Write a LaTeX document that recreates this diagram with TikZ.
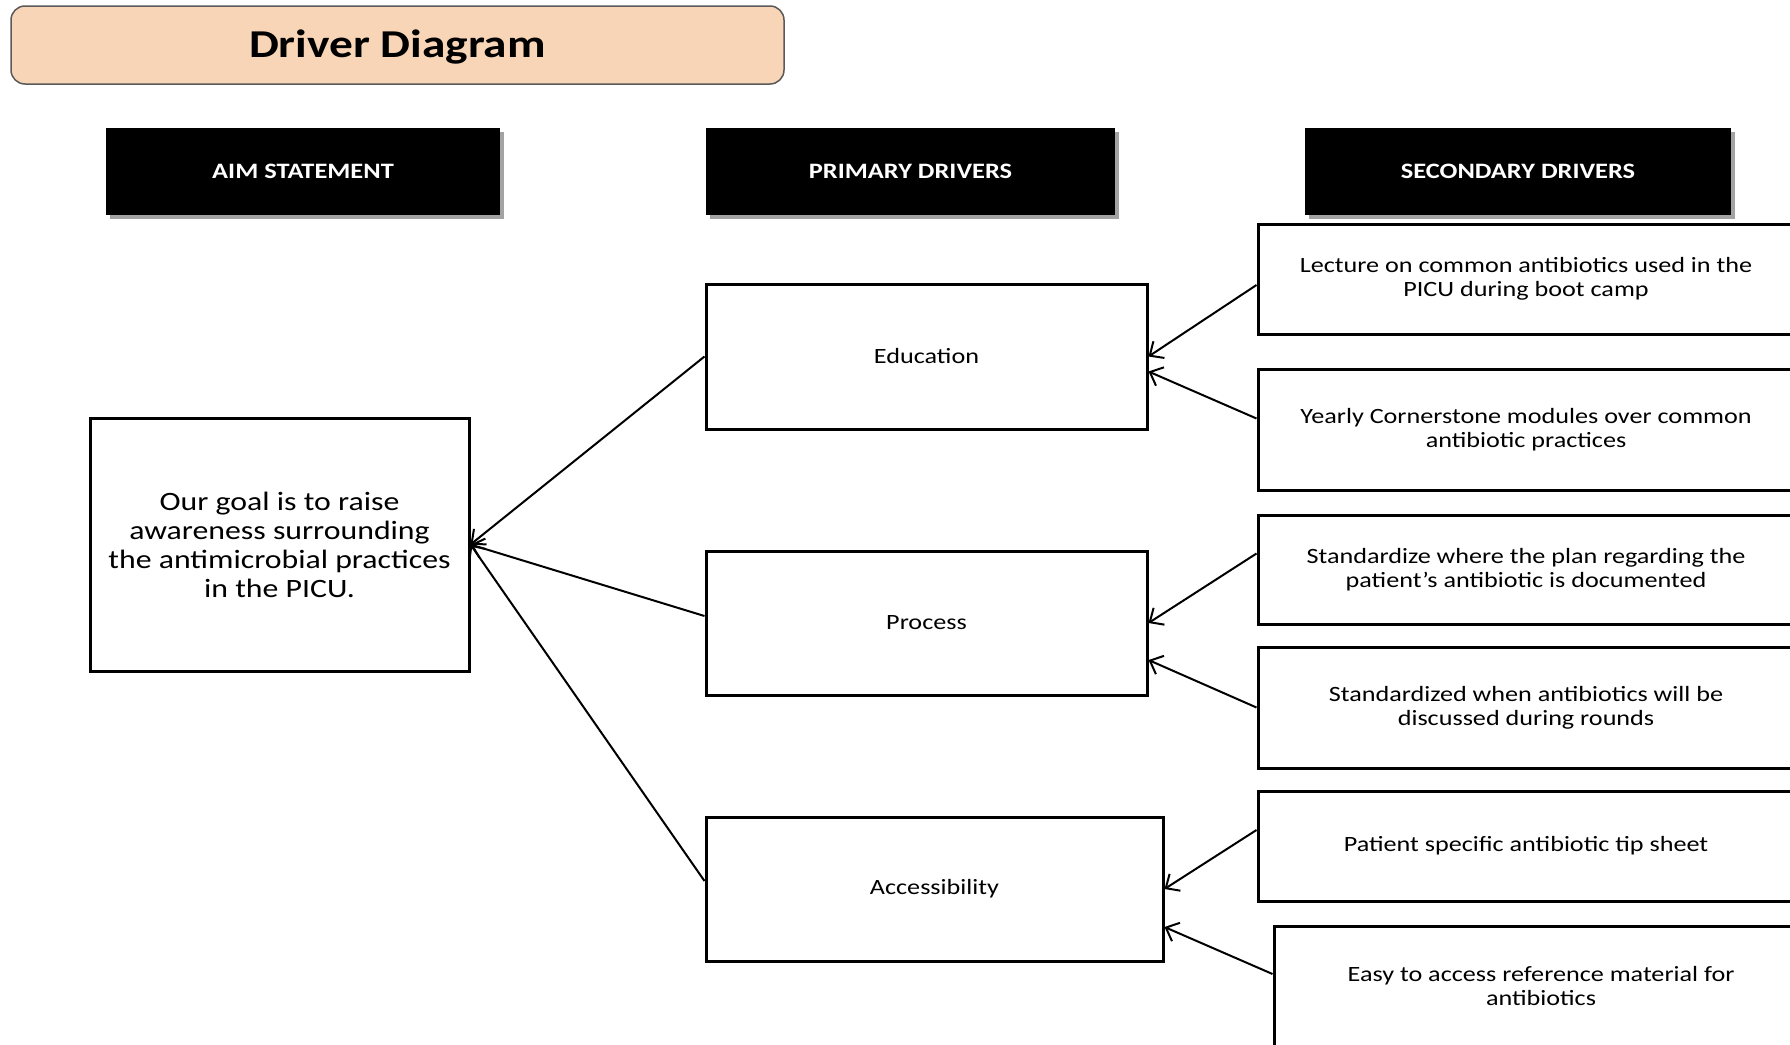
\documentclass[tikz,border=0pt]{standalone}
\usepackage{fontspec}
\setmainfont{Carlito}[FakeStretch=1.2]
\usetikzlibrary{arrows.meta,shadows}
\definecolor{peach}{RGB}{249,213,184}
\definecolor{titleborder}{RGB}{90,90,90}
\tikzset{
  titlebox/.style={draw=titleborder, line width=1.5pt, fill=peach, rounded corners=14pt, inner sep=0pt,
    font=\fontsize{39.5}{44}\selectfont\bfseries},
  headbox/.style={fill=black, text=white, inner sep=0pt, font=\fontsize{22}{26}\selectfont\bfseries,
    drop shadow={shadow xshift=4pt, shadow yshift=-4pt, fill=black!45, opacity=0.8}},
  box/.style={draw=black, line width=3pt, fill=white, inner sep=0pt, align=center},
  aimtext/.style={font=\fontsize{26.5}{29}\selectfont},
  sectext/.style={font=\fontsize{21.8}{24}\selectfont},
  conn/.style={line width=2pt, -{Straight Barb[length=11pt,width=20pt,line width=2pt]}},
}
\begin{document}
\begin{tikzpicture}[x=1pt,y=-1pt]
\useasboundingbox (0,0) rectangle (1790,1044);
\clip (0,0) rectangle (1790,1044);
\fill[white] (0,0) rectangle (1790,1044);

% title
\node[titlebox, minimum width=773pt, minimum height=78pt] (title) at (397.5,45) {\raisebox{-13pt}[0pt][0pt]{Driver Diagram}};

% headers
\node[headbox, minimum width=394pt, minimum height=87pt] (haim) at (303,171.5) {AIM STATEMENT};
\node[headbox, minimum width=409pt, minimum height=87pt] (hprim) at (910.5,171.5) {PRIMARY DRIVERS};
\node[headbox, minimum width=426pt, minimum height=87pt] (hsec) at (1518,171.5) {SECONDARY DRIVERS};

% aim
\node[box, aimtext, minimum width=379pt, minimum height=253pt] (aim) at (279.5,544.5)
  {Our goal is to raise\\awareness surrounding\\the antimicrobial practices\\in the PICU.};

% primary drivers
\node[box, sectext, minimum width=441pt, minimum height=145pt] (edu) at (926.5,356.5) {Education};
\node[box, sectext, minimum width=441pt, minimum height=144pt] (proc) at (926.5,623) {Process};
\node[box, sectext, minimum width=457pt, minimum height=144pt] (acc) at (934.5,889) {Accessibility};

% secondary drivers
\node[box, sectext, minimum width=536pt, minimum height=110pt] (s1) at (1526,279)
  {Lecture on common antibiotics used in the\\PICU during boot camp};
\node[box, sectext, minimum width=536pt, minimum height=121pt] (s2) at (1526,429.5)
  {Yearly Cornerstone modules over common\\antibiotic practices};
\node[box, sectext, minimum width=536pt, minimum height=109pt] (s3) at (1526,569.5)
  {Standardize where the plan regarding the\\patient’s antibiotic is documented};
\node[box, sectext, minimum width=536pt, minimum height=121pt] (s4) at (1526,707.5)
  {Standardized when antibiotics will be\\discussed during rounds};
\node[box, sectext, minimum width=536pt, minimum height=110pt] (s5) at (1526,846)
  {Patient specific antibiotic tip sheet};
\node[box, sectext, minimum width=534pt, minimum height=120pt] (s6) at (1541,986)
  {Easy to access reference material for\\antibiotics};

% connectors primary -> aim
\draw[conn] (edu.west) -- (aim.east);
\draw[conn] ([yshift=7pt]proc.west) -- (aim.east);
\draw[conn] ([yshift=8pt]acc.west) -- (aim.east);

% connectors secondary -> primary
\draw[conn] ([yshift=-6pt]s1.west) -- (edu.east);
\draw[conn] ([yshift=11pt]s2.west) -- ([yshift=-15pt]edu.east);
\draw[conn] ([yshift=16pt]s3.west) -- (proc.east);
\draw[conn] (s4.west) -- ([yshift=-37pt]proc.east);
\draw[conn] ([yshift=16pt]s5.west) -- (acc.east);
\draw[conn] ([yshift=12pt]s6.west) -- ([yshift=-38pt]acc.east);
\end{tikzpicture}
\end{document}
